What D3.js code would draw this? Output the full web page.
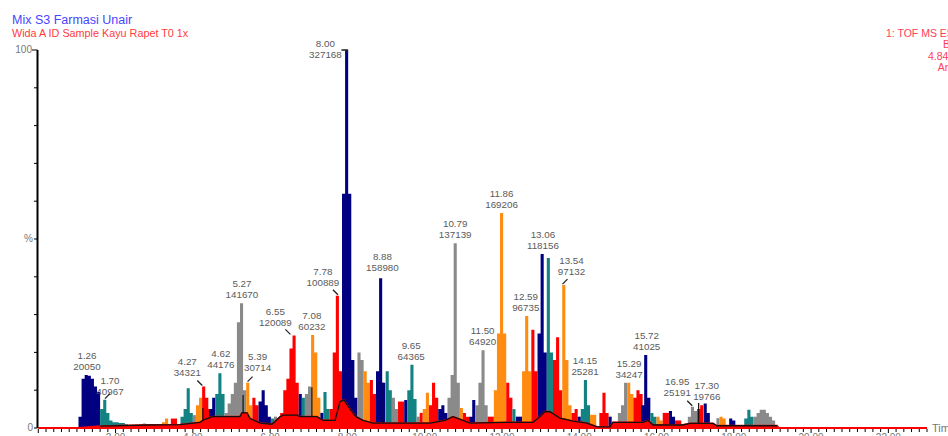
<!DOCTYPE html>
<meta charset="utf-8" />
<head>
  <script src="https://d3js.org/d3.v7.min.js"></script>
  <style>
    body { margin: 0; background: #fff; }
    text { font-family: "Liberation Sans", Arial, sans-serif; }
  </style>
</head>
<body>
<div id="chart"></div>
<script>
  // header texts
  const titleTop = "Mix S3 Farmasi Unair";
  const titleSample = "Wida A ID Sample Kayu Rapet T0 1x";
  const traceInfo = ["1: TOF MS ES+", "BPI", "4.84e4", "Area"];

  // chromatogram: integrated peaks, one height (%) per scan
  const scanStep = 0.08;
  const peakStart = [1.04, 1.60, 2.63, 3.20, 3.43, 3.68, 4.00, 4.08, 4.24, 4.42, 4.58, 4.82, 5.38, 5.54, 5.70,
    6.02, 6.10, 6.18, 6.26, 6.74, 6.82, 6.90, 7.06, 7.30, 7.38, 7.54, 7.86, 8.26, 8.42, 8.58, 8.74, 8.99,
    9.15, 9.31, 9.47, 9.55, 9.79, 9.87, 9.95, 10.11, 10.35, 10.59, 10.91, 10.99, 11.15, 11.31, 11.63, 11.79,
    12.11, 12.27, 12.36, 12.52, 12.76, 12.92, 13.16, 13.32, 13.56, 13.80, 13.96, 14.04, 14.28, 14.52, 14.76,
    15.00, 15.24, 15.40, 15.60, 15.84, 16.00, 16.16, 16.32, 16.48, 16.81, 17.05, 17.22, 17.55, 17.63, 17.88,
    18.27, 18.51];
  const peakColour = ["n", "t", "g", "o", "r", "t", "g", "o", "r", "n", "t", "g", "o", "r", "n",
    "t", "g", "o", "r", "n", "t", "g", "o", "n", "t", "r", "n", "g", "o", "r", "n", "t",
    "g", "r", "n", "t", "g", "r", "o", "r", "n", "g", "o", "r", "n", "g", "r", "o",
    "r", "t", "n", "o", "r", "n", "t", "r", "o", "r", "n", "t", "o", "r", "n",
    "g", "o", "r", "n", "t", "o", "r", "n", "r", "g", "r", "n", "g", "o", "n",
    "t", "g"];
  const peakHeights = [
    [3, 13, 14, 13.8, 13, 11, 9.5], [5, 7.5, 4, 2, 1.5, 1.5, 1.3, 1.3, 1, 0.8], [1, 1.2, 1], [1.5, 2.5], [2.5, 2.5],
    [3, 5, 10.5, 4], [3.4], [6, 8], [11, 8, 5], [5, 8], [9, 14.5, 9], [4, 6.5, 9, 12, 28, 33, 10], [12, 6], [8, 6],
    [7, 10, 6, 3], [2.5], [3], [1.5], [4, 10, 13, 21, 24.5, 12], [9], [8], [9, 11], [24.6, 20, 8], [4], [9.5, 5],
    [5, 20, 35, 15], [62, 100, 62, 18, 8], [20, 18], [15, 12], [12.7, 9], [15, 39.6, 12], [15, 10], [8, 5], [7, 7],
    [7.4], [10, 16.7, 7.7], [3], [4], [5, 9.3], [6, 12, 8], [5, 6, 4], [8, 14, 48.9, 12], [5.3], [4, 3], [3, 7.4],
    [6, 12, 20.6, 6], [3, 3], [10, 25, 56.9, 25], [12, 8], [5], [3, 3], [15, 29.6, 15], [26, 15], [25, 46, 20],
    [45, 20], [18, 24, 10], [37.8, 18, 6], [4, 5], [3], [5, 12.7, 6], [3.5, 3.5], [4, 9.3, 4], [3], [4, 6, 12],
    [12, 9], [8, 10, 9], [6, 19.3, 8], [4, 3], [3, 2], [4, 4], [4.5, 3], [2, 2], [3, 5.6, 4.5], [5, 6], [6.5, 4],
    [2.6], [3, 2.5], [2.5, 2], [2.5, 4.8, 3], [3, 4, 4.8, 4.8, 4, 3, 2]];

  // second trace (red, with black outline)
  const baseTime = [0, 1.03, 1.60, 2.89, 3.67, 4.18, 4.31, 4.52, 5.22, 5.27, 5.40, 5.48, 5.74, 6.05, 6.26, 6.33,
    6.70, 6.77, 7.21, 7.37, 7.68, 7.81, 7.91, 8.07, 8.22, 8.40, 8.66, 10.14, 10.53, 10.73, 10.99, 11.17, 12.08,
    12.80, 12.98, 13.11, 13.24, 13.50, 13.84, 14.20, 14.46, 14.80, 14.87, 15.65, 15.78, 15.91, 16.68, 16.87,
    17.46, 17.56, 19.12, 19.17, 23.0];
  const baseLevel = [0, 0, 0.5, 0.8, 0.9, 1.5, 2.3, 3, 3, 4, 4, 2.5, 1.3, 1, 3, 3.4,
    3.4, 3, 3, 2, 2, 7, 7.4, 5, 3, 2, 1.3, 1.3, 2, 3, 2, 1.3, 1.5,
    1.5, 3, 4.3, 4.3, 2.6, 1.8, 1.3, 0.3, 0.3, 1.5, 1.5, 2, 0.8, 0.8, 1.2,
    1.2, 0.6, 0.6, 0, 0];

  // integration drop lines
  const dropTime = [4.26, 5.30, 7.08, 8.93, 17.09];
  const dropTop = [5.3, 8.7, 10.8, 12, 6.6];

  // peak annotations
  const labelTime = [1.26, 1.70, 4.27, 4.62, 5.27, 5.39, 6.55, 7.08, 7.78, 8.00, 8.88, 9.65, 10.79, 11.50,
    11.86, 12.59, 13.06, 13.54, 14.15, 15.29, 15.72, 16.95, 17.30];
  const labelArea = ["20050", "40967", "34321", "44176", "141670", "30714", "120089", "60232", "100889",
    "327168", "158980", "64365", "137139", "64920", "169206", "96735", "118156", "97132", "25281",
    "34247", "41025", "25191", "19766"];
  const labelHeight = [14, 7.5, 11, 14.5, 33, 12, 24.5, 24.6, 35, 100, 39.6, 16.7, 48.9, 20.6, 56.9, 29.6,
    46, 37.8, 12.7, 12, 19.3, 5.6, 6.5];

  const xMax = 23;

  // layout
  const W = 948, H = 436;
  const x = d3.scaleLinear().domain([0, xMax]).range([38.3, 927]);
  const y = d3.scaleLinear().domain([0, 100]).range([428, 50]);
  const colours = { n: "#000080", t: "#128282", g: "#8a8a8a", o: "#ff8c10", r: "#ff0000" };
  // label nudges [dx, dy] in px, index-matched to labelTime
  const labelNudge = [[0, 0], [6, 0], [-16, -5], [4, 0], [0, 0], [11, -6.5], [-16, -4.5], [0, 0], [-16, -4.5],
    [-22, 13], [1, -2], [0, 0], [0, 0], [0, 0], [5, 0], [1, 0], [0, 0], [10, -5], [0, 0], [0, 0], [1, 0],
    [-16, -6], [0, 1.5]];

  const svg = d3.select("#chart").append("svg").attr("width", W).attr("height", H);

  const peakArea = d3.area()
    .x((d) => x(d[0]))
    .y0(y(0))
    .y1((d) => y(d[1]))
    .curve(d3.curveStepAfter);

  peakStart.forEach((t0, i) => {
    const hs = peakHeights[i];
    const pts = hs.map((h, k) => [t0 + k * scanStep, h]);
    pts.push([t0 + hs.length * scanStep, hs[hs.length - 1]]);
    svg.append("path").datum(pts)
      .attr("fill", colours[peakColour[i]])
      .attr("d", peakArea);
  });

  // red trace with black outline
  const base = baseTime.map((t, i) => [t, baseLevel[i]]);
  svg.append("path").datum(base)
    .attr("fill", "#ff0000")
    .attr("stroke", "#ff0000")
    .attr("stroke-width", 1.8)
    .attr("d", d3.area().x((d) => x(d[0])).y0(y(0)).y1((d) => y(d[1])));

  svg.append("path").datum(base.filter((d) => d[1] > 0))
    .attr("fill", "none")
    .attr("stroke", "#111")
    .attr("stroke-width", 1.3)
    .attr("d", d3.line().x((d) => x(d[0])).y((d) => y(d[1])));

  function baseAt(t) {
    const i = d3.bisectRight(baseTime, t);
    const t0 = baseTime[i - 1], t1 = baseTime[i];
    return baseLevel[i - 1] + (baseLevel[i] - baseLevel[i - 1]) * (t - t0) / (t1 - t0);
  }
  dropTime.forEach((t, i) => {
    svg.append("line")
      .attr("x1", x(t)).attr("x2", x(t))
      .attr("y1", y(baseAt(t))).attr("y2", y(dropTop[i]))
      .attr("stroke", "#111").attr("stroke-width", 1.2);
  });

  // y axis
  svg.append("line")
    .attr("x1", 37.5).attr("x2", 37.5).attr("y1", y(100)).attr("y2", y(0))
    .attr("stroke", "#000").attr("stroke-width", 2);
  d3.range(0, 101, 10).forEach((v) => {
    svg.append("line")
      .attr("x1", v === 100 ? 32 : 34).attr("x2", 37.5)
      .attr("y1", y(v)).attr("y2", y(v))
      .attr("stroke", "#000").attr("stroke-width", 1);
  });
  const yLab = svg.append("g").attr("fill", "#777").style("font-size", "10px").attr("text-anchor", "end");
  yLab.append("text").attr("x", 32).attr("y", y(100) + 3).text("100");
  yLab.append("text").attr("x", 33).attr("y", y(50) + 3).text("%");
  yLab.append("text").attr("x", 33).attr("y", y(0) + 3).text("0");

  // x axis ticks (labels fall partly below the frame, as in the source)
  d3.range(0, xMax + 0.001, 0.2).forEach((t) => {
    const major = Math.abs(t / 2 - Math.round(t / 2)) < 1e-6;
    svg.append("line")
      .attr("x1", x(t)).attr("x2", x(t))
      .attr("y1", y(0) + 1).attr("y2", y(0) + (major ? 5 : 4))
      .attr("stroke", "#000").attr("stroke-width", 1);
  });
  d3.range(2, xMax, 2).forEach((t) => {
    svg.append("text")
      .attr("x", x(t)).attr("y", 441)
      .attr("text-anchor", "middle")
      .attr("fill", "#777").style("font-size", "10px")
      .text(t.toFixed(2));
  });
  svg.append("text").attr("x", 932).attr("y", 432)
    .attr("fill", "#777").style("font-size", "11px").text("Time");

  // header
  svg.append("text").attr("x", 12).attr("y", 24).attr("fill", "#4646ff").style("font-size", "12.5px").text(titleTop);
  svg.append("text").attr("x", 12).attr("y", 37).attr("fill", "#ff3b3b").style("font-size", "10.8px").text(titleSample);
  const info = svg.append("g").attr("fill", "#ff3c5a").style("font-size", "10.5px").attr("text-anchor", "end");
  [37, 48, 60, 71].forEach((yy, i) => {
    info.append("text").attr("x", 960).attr("y", yy).text(traceInfo[i]);
  });

  // peak labels
  const lab = svg.append("g").attr("fill", "#5a5a5a").style("font-size", "9.8px").attr("text-anchor", "middle");
  labelTime.forEach((t, i) => {
    const [dx, dy] = labelNudge[i];
    const px = x(t), py = y(labelHeight[i]);
    const bx = px + dx, by = py - 5 + dy;
    lab.append("text").attr("x", bx).attr("y", by - 11).text(t.toFixed(2));
    lab.append("text").attr("x", bx).attr("y", by).text(labelArea[i]);
    if (Math.abs(dx) > 5) {
      const dir = dx > 0 ? 1 : -1;
      const pts = dy > 0
        ? [[px, py + 3], [px, py], [px - 6, py]]
        : [[px + dir, py - 1], [px + dir * 6, py - 6]];
      svg.append("path")
        .attr("d", d3.line()(pts))
        .attr("fill", "none")
        .attr("stroke", "#222")
        .attr("stroke-width", 1.3);
    }
  });
</script>
</body>
